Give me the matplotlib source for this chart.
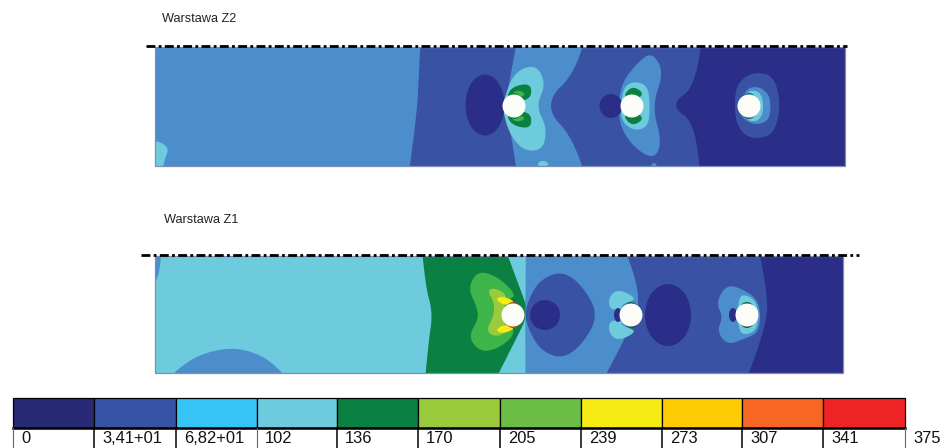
#!/usr/bin/env python3
"""
Warstawa Z2 / Z1 - mapa naprezen z legenda kolorow
Konturowe obszary odczytane z obrazka, wspolrzedne w pikselach
"""

import numpy as np
import matplotlib
matplotlib.use("Agg")
import matplotlib.pyplot as plt
from matplotlib.patches import Polygon, Ellipse, Rectangle

plt.rcParams['font.family'] = ['Liberation Sans', 'DejaVu Sans']

# kolory obszarow
C_DARKEST = '#2b2e88'
C_DARK = '#3a52a4'
C_BLUE = '#4b8ecb'
C_CYAN = '#6ecbdd'
C_GREEN = '#0a8042'
C_LGREEN = '#3db54a'
C_LIME = '#9acb3c'
C_YELLOW = '#f5ec13'
C_RED = '#c8452a'

# legenda
legend_labels = ['0', '3,41+01', '6,82+01', '102', '136', '170', '205', '239', '273', '307', '341', '375']
legend_edges = [13, 94, 176, 257, 337, 418, 500, 581, 662, 742, 823, 905]
legend_colors = ['#292a75', '#3753a5', '#35c4f5', '#6ecbdf', '#0a8043', '#99ca3c',
                 '#6cbd45', '#f6eb14', '#ffcb05', '#f76723', '#ee2326']

# panele: x0, x1, y0, y1
panel_z2 = (155, 845, 47, 166)
panel_z1 = (155, 843, 256, 373)

# otwory: x, y, kolor obwodki
holes_z2 = [(514, 106, C_GREEN), (632, 106, C_GREEN), (749, 106, '#1d5f7a')]
holes_z1 = [(513, 315, C_RED), (631, 315, '#12583f'), (747, 315, '#12583f')]
hole_r = 11.5

# Warstawa Z2 - obszary (kolor, obrys)
z2_base = C_BLUE
z2_regions = [
    (C_CYAN, [(140, 140), (160, 141), (169, 149), (165, 158), (160, 180), (140, 180)]),
    (C_DARK, [(424, -20), (419, 70), (417, 115), (400, 235), (525, 235), (514, 150),
              (505, 106), (513, 62), (528, -20)]),
    (C_DARK, [(595, -20), (580, 68), (542, 105), (577, 142), (600, 235), (760, 235), (760, -20)]),
    (C_DARKEST, [(706, -20), (698, 85), (669, 105), (698, 125), (702, 235), (900, 235), (900, -20)]),
    (C_CYAN, [(503, 102), (514, 72), (536, 64), (546, 84), (536, 106), (547, 128), (543, 150),
              (524, 151), (510, 135), (503, 112)]),
    (C_GREEN, [(506, 100), (511, 87), (530, 83), (532, 95), (525, 101)]),
    (C_GREEN, [(506, 112), (511, 125), (530, 129), (532, 117), (525, 111)]),
    (C_LGREEN, [(510, 96), (516, 90), (524, 92), (524, 97)]),
    (C_LGREEN, [(510, 117), (516, 122), (524, 120), (524, 116)]),
    (C_BLUE, [(652, 52), (638, 62), (620, 85), (618, 122), (632, 146), (654, 160), (662, 142),
              (652, 106), (664, 72)]),
    (C_CYAN, [(622, 90), (632, 81), (648, 85), (650, 108), (648, 127), (634, 131), (620, 120)]),
    (C_GREEN, [(623, 96), (632, 86), (643, 92), (640, 98), (632, 98)]),
    (C_GREEN, [(623, 116), (632, 126), (643, 120), (640, 114), (632, 114)]),
    (C_DARK, [(757, 72), (774, 76), (781, 105), (774, 134), (757, 139), (744, 135), (735, 121),
              (735, 89), (744, 77)]),
    (C_BLUE, [(745, 89), (758, 86), (769, 94), (771, 108), (768, 122), (752, 125), (738, 114)]),
    (C_CYAN, [(745, 92), (757, 90), (763, 98), (763, 114), (757, 122), (745, 120)]),
]
# cx, cy, szerokosc, wysokosc, kolor
z2_ellipses = [
    (485, 105, 39, 61, C_DARKEST),
    (611, 106, 23, 24, C_DARKEST),
    (543, 164, 10, 6, C_CYAN),
    (654, 165, 5, 4, C_BLUE),
]

# Warstawa Z1 - obszary (kolor, obrys)
z1_base = C_CYAN
z1_regions = [
    (C_BLUE, [(140, 230), (163, 230), (160, 270), (155, 284), (140, 290)]),
    (C_BLUE, [(148, 400), (176, 370), (200, 354), (233, 347), (262, 355), (282, 372), (308, 400)]),
    (C_GREEN, [(418, 200), (425, 285), (433, 313), (428, 345), (420, 440), (465, 440), (513, 345),
               (529, 313), (521, 291), (487, 200)]),
    (C_LGREEN, [(478, 270), (468, 288), (476, 305), (479, 318), (468, 337), (480, 352), (498, 349),
                (517, 333), (505, 315), (506, 300), (517, 296), (500, 278)]),
    (C_LIME, [(487, 290), (496, 288), (508, 296), (502, 314), (507, 332), (495, 337), (486, 331),
              (494, 315), (494, 302)]),
    (C_YELLOW, [(495, 299), (503, 296), (516, 302), (505, 306)]),
    (C_YELLOW, [(495, 330), (503, 334), (516, 328), (505, 324)]),
    (C_BLUE, [(527, 190), (525, 313), (526, 440), (570, 440), (630, 330), (643, 290), (597, 190)]),
    (C_DARK, [(524, 314), (532, 292), (542, 279), (562, 271), (582, 285), (599, 315), (582, 345),
              (562, 359), (542, 351), (531, 335)]),
    (C_DARK, [(597, 190), (643, 290), (630, 330), (570, 440), (790, 440), (790, 190)]),
    (C_DARKEST, [(745, 190), (768, 290), (766, 330), (722, 440), (900, 440), (900, 190)]),
    (C_CYAN, [(609, 296), (619, 289), (638, 299), (622, 304), (621, 310), (609, 309)]),
    (C_CYAN, [(609, 334), (619, 341), (638, 331), (622, 326), (621, 320), (609, 321)]),
    (C_BLUE, [(716, 303), (726, 285), (741, 288), (760, 301), (760, 332), (744, 339), (727, 345),
              (717, 331), (723, 317)]),
    (C_CYAN, [(738, 296), (748, 295), (758, 304), (758, 328), (748, 335), (738, 332)]),
]
z1_ellipses = [
    (545, 315, 30, 30, C_DARKEST),
    (668, 315, 46, 62, C_DARKEST),
    (618, 315, 8, 14, C_DARKEST),
    (733, 315, 8, 14, C_DARKEST),
]


def smooth(points, n=3):
    # wygladzanie obrysu (Chaikin)
    pts = np.array(points, dtype=float)
    for _ in range(n):
        nxt = np.roll(pts, -1, axis=0)
        pts = np.column_stack([0.75 * pts + 0.25 * nxt, 0.25 * pts + 0.75 * nxt]).reshape(-1, 2)
    return pts


def draw_panel(ax, panel, base, regions, ellipses, holes):
    x0, x1, y0, y1 = panel
    clip = Rectangle((x0, y0), x1 - x0, y1 - y0, transform=ax.transData)
    ax.add_patch(Rectangle((x0, y0), x1 - x0, y1 - y0, fc=base, ec='none', zorder=1))
    z = 2
    for color, outline in regions:
        p = Polygon(smooth(outline), closed=True, fc=color, ec='none', zorder=z)
        ax.add_patch(p)
        p.set_clip_path(clip)
        z += 0.01
    for cx, cy, w, h, color in ellipses:
        e = Ellipse((cx, cy), w, h, fc=color, ec='none', zorder=3)
        ax.add_patch(e)
        e.set_clip_path(clip)
    for cx, cy, rim in holes:
        # obwodka widoczna tylko od gory i dolu otworu
        ax.add_patch(Ellipse((cx, cy), 2 * hole_r - 5, 2 * hole_r + 3, fc=rim, ec='none', zorder=3.5))
        ax.add_patch(Ellipse((cx, cy), 2 * hole_r, 2 * hole_r, fc='#fdfdf8', ec='none', zorder=4))
    ax.add_patch(Rectangle((x0, y0), x1 - x0, y1 - y0, fc='none', ec='#7d8db5', lw=0.9, zorder=5))


fig = plt.figure(figsize=(9.41, 4.48), dpi=100)
ax = fig.add_axes([0, 0, 1, 1])
ax.set_xlim(0, 941)
ax.set_ylim(448, 0)
ax.axis('off')

draw_panel(ax, panel_z2, z2_base, z2_regions, z2_ellipses, holes_z2)
draw_panel(ax, panel_z1, z1_base, z1_regions, z1_ellipses, holes_z1)

# linie osi symetrii
ax.plot([146, 847], [46, 46], color='black', lw=2.0, dashes=(3.2, 1.2, 1.0, 1.2), zorder=6)
ax.plot([141, 859], [255, 255], color='black', lw=2.0, dashes=(3.2, 1.2, 1.0, 1.2), zorder=6)

ax.text(162, 19, 'Warstawa Z2', fontsize=9.2, color='#222222', va='center', ha='left')
ax.text(164, 220, 'Warstawa Z1', fontsize=9.2, color='#222222', va='center', ha='left')

# legenda kolorow
for i, color in enumerate(legend_colors):
    ax.add_patch(Rectangle((legend_edges[i], 398), legend_edges[i + 1] - legend_edges[i], 30,
                           fc=color, ec='black', lw=0.9, zorder=2))
ax.plot([legend_edges[0], legend_edges[-1]], [428.5, 428.5], color='black', lw=1.8, zorder=3)
for i, label in enumerate(legend_labels):
    if i in (0, 3, 11):
        ax.plot([legend_edges[i], legend_edges[i]], [428, 448], color='#666666', lw=0.8, zorder=3)
    else:
        ax.plot([legend_edges[i], legend_edges[i]], [428, 448], color='black', lw=1.1, zorder=3)
    ax.text(legend_edges[i] + 8, 438.5, label, fontsize=11.9, color='#111111', va='center', ha='left')

plt.savefig("out.png", dpi=100)
